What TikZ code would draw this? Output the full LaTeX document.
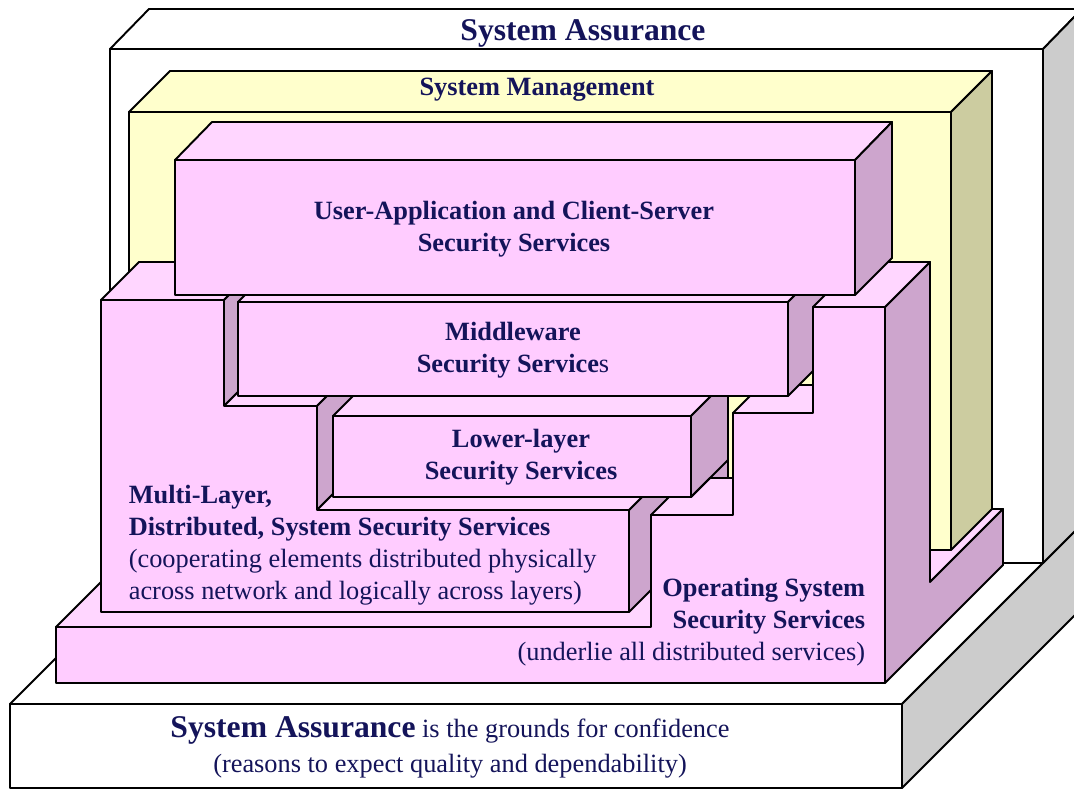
\documentclass[tikz,border=0pt]{standalone}
\usepackage{fontspec}
\setmainfont{Liberation Serif}
\definecolor{pinkfront}{RGB}{255,204,255}
\definecolor{pinktop}{RGB}{255,214,255}
\definecolor{pinkside}{RGB}{205,165,205}
\definecolor{mgmtfront}{RGB}{255,255,204}
\definecolor{mgmtside}{RGB}{204,204,160}
\definecolor{greyside}{RGB}{204,204,204}
\definecolor{navy}{RGB}{20,20,90}
\begin{document}
\begin{tikzpicture}[x=0.02cm,y=-0.02cm,line width=1.1pt,line join=round,
  fr/.style={draw,fill=pinkfront},tp/.style={draw,fill=pinktop},sd/.style={draw,fill=pinkside},
  wt/.style={draw,fill=white},
  bold/.style={text=navy,align=center,font=\fontsize{15}{18.2}\selectfont\bfseries},
  plain/.style={text=navy,font=\fontsize{15}{18.2}\selectfont}]
\useasboundingbox (0,0) rectangle (1074,788);
\clip (0,0) rectangle (1074,788);

\draw[wt] (10,704)--(902,704)--(1122,484)--(230,484)--cycle;
\draw[draw,fill=greyside] (902,704)--(1122,484)--(1122,568)--(902,788)--cycle;
\draw[wt] (10,704) rectangle (902,788);

\draw[wt] (110,49) rectangle (1043,563);
\draw[wt] (110,49)--(149,9)--(1082,9)--(1043,49)--cycle;
\draw[draw,fill=greyside] (1043,49)--(1082,9)--(1082,524)--(1043,563)--cycle;

\draw[tp] (56,627)--(885,627)--(1003,509)--(174,509)--cycle;

\draw[draw,fill=mgmtfront] (129,112) rectangle (951,550);
\draw[draw,fill=mgmtfront] (129,112)--(170,71)--(992,71)--(951,112)--cycle;
\draw[draw,fill=mgmtside] (951,112)--(992,71)--(992,509)--(951,550)--cycle;

\draw[sd] (885,307)--(930,262)--(930,582)--(1003,509)--(1003,565)--(885,683)--cycle;
\draw[sd] (629,510)--(629,612)--(667,574)--(667,472)--cycle;
\draw[tp] (651,515)--(733,515)--(770,478)--(688,478)--cycle;
\draw[tp] (733,413)--(813,413)--(841,385)--(761,385)--cycle;

\draw[tp] (101,300)--(224,300)--(262,262)--(139,262)--cycle;
\draw[sd] (224,300)--(224,406)--(262,368)--(262,262)--cycle;
\draw[tp] (224,406)--(317,406)--(355,368)--(262,368)--cycle;
\draw[sd] (317,406)--(317,510)--(355,472)--(355,368)--cycle;
\draw[tp] (317,510)--(629,510)--(667,472)--(355,472)--cycle;
\draw[fr] (101,300)--(224,300)--(224,406)--(317,406)--(317,510)--(629,510)--(629,612)--(101,612)--cycle;

\draw[tp] (333,416)--(691,416)--(728,379)--(370,379)--cycle;
\draw[sd] (691,416)--(728,379)--(728,478)--(710,478)--(691,497)--cycle;
\draw (691,497)--(728,460);
\draw[fr] (333,416) rectangle (691,497);

\draw[tp] (238,302)--(788,302)--(825,265)--(275,265)--cycle;
\draw[sd] (788,302)--(825,265)--(825,359)--(788,396)--cycle;
\draw[fr] (238,302) rectangle (788,396);

\draw[tp] (813,307)--(885,307)--(930,262)--(858,262)--cycle;
\draw[fr] (56,627)--(651,627)--(651,515)--(733,515)--(733,413)--(813,413)--(813,307)--(885,307)--(885,683)--(56,683)--cycle;

\draw[tp] (175,160)--(855,160)--(892,122)--(212,122)--cycle;
\draw[sd] (855,160)--(892,122)--(892,258)--(855,295)--cycle;
\draw[fr] (175,160) rectangle (855,295);

\node[bold,font=\fontsize{18}{20}\selectfont\bfseries] (title) at (583,33) {System Assurance};
\node[bold] (mgmt) at (537,90) {System Management};
\node[bold] (app) at (514,229) {User-Application and Client-Server\\Security Services};
\node[bold] (mid) at (513,350) {Middleware\\Security Service\mdseries s};
\node[bold] (low) at (521,457) {Lower-layer\\Security Services};
\node[plain,anchor=west,align=left] (multi) at (122,545) {\textbf{Multi-Layer,}\\\textbf{Distributed, System Security Services}\\(cooperating elements distributed physically\\across network and logically across layers)};
\node[plain,anchor=east,align=right] (os) at (872,622) {\textbf{Operating System}\\\textbf{Security Services}\\(underlie all distributed services)};
\node[plain,align=center,font=\fontsize{15}{20}\selectfont] (basetxt) at (450,747) {{\fontsize{18}{20}\selectfont\bfseries System Assurance} is the grounds for confidence\\(reasons to expect quality and dependability)};
\end{tikzpicture}
\end{document}
